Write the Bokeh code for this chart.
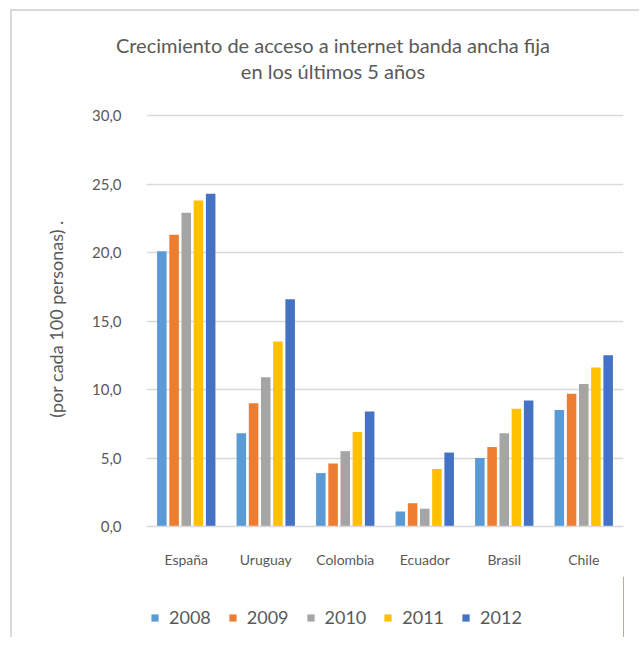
from bokeh.plotting import figure
from bokeh.layouts import column
from bokeh.models import (FactorRange, Range1d, FixedTicker, Legend, LegendItem, Div,
                          ColumnDataSource)
from bokeh.transform import dodge
from bokeh.embed import file_html
from bokeh.resources import INLINE

countries = ["España", "Uruguay", "Colombia", "Ecuador", "Brasil", "Chile"]
years = ["2008", "2009", "2010", "2011", "2012"]
v2008 = [20.1, 6.8, 3.9, 1.1, 5.0, 8.5]
v2009 = [21.3, 9.0, 4.6, 1.7, 5.8, 9.7]
v2010 = [22.9, 10.9, 5.5, 1.3, 6.8, 10.4]
v2011 = [23.8, 13.5, 6.9, 4.2, 8.6, 11.6]
v2012 = [24.3, 16.6, 8.4, 5.4, 9.2, 12.5]
colors = ["#5B9BD5", "#ED7D31", "#A5A5A5", "#FFC000", "#4472C4"]
y_ticks = [0, 5, 10, 15, 20, 25, 30]
y_tick_labels = ["0,0", "5,0", "10,0", "15,0", "20,0", "25,0", "30,0"]
title_lines = ["Crecimiento de acceso a internet banda ancha fija", "en los últimos 5 años"]
y_label = "(por cada 100 personas) ."

FONT = "Lato"
TXT = "#595959"
GRID = "#d9d9d9"
W = 623
ML, MR = 134, 12
BORDER_L = "2px solid #d9d9d9"


def blank(fig):
    fig.outline_line_color = None
    fig.xgrid.grid_line_color = None
    fig.ygrid.grid_line_color = None
    fig.background_fill_color = "white"
    fig.border_fill_color = "white"


# ---- title block ----
T = Div(text="<br>".join(title_lines), width=629, height=90,
        styles={"border-left": BORDER_L, "border-top": BORDER_L, "overflow": "hidden",
                "text-align": "center", "font-family": FONT, "font-size": "20px",
                "color": TXT, "line-height": "26px", "padding-top": "21px",
                "padding-left": "15px", "box-sizing": "border-box"})
T.margin = (9, 0, 0, 10)

# ---- main chart ----
source = ColumnDataSource(dict(country=countries, y2008=v2008, y2009=v2009,
                               y2010=v2010, y2011=v2011, y2012=v2012))

p = figure(width=W, height=477, x_range=FactorRange(*countries, range_padding=0),
           y_range=Range1d(0, 30.3), output_backend="svg", toolbar_location=None,
           min_border_left=ML, min_border_right=MR, min_border_top=12, min_border_bottom=50)
p.margin = (0, 0, 0, 10)
p.styles = {"border-left": BORDER_L}
p.outline_line_color = None
p.background_fill_color = "white"

offsets = [-0.307, -0.153, 0.0, 0.153, 0.307]
for yr, off, col in zip(years, offsets, colors):
    p.vbar(x=dodge("country", off, range=p.x_range), top="y" + yr, width=0.12,
           source=source, fill_color=col, line_color=None)

p.xgrid.grid_line_color = None
p.ygrid.grid_line_color = GRID
p.ygrid.grid_line_width = 1.5

p.yaxis.ticker = FixedTicker(ticks=y_ticks)
p.yaxis.major_label_overrides = {t: l for t, l in zip(y_ticks, y_tick_labels)}
p.yaxis.axis_line_color = None
p.yaxis.major_tick_line_color = None
p.yaxis.minor_tick_line_color = None
p.yaxis.major_label_text_font = FONT
p.yaxis.major_label_text_font_size = "15px"
p.yaxis.major_label_text_color = TXT
p.yaxis.major_label_standoff = 19
p.yaxis.axis_label = y_label
p.yaxis.axis_label_text_font = FONT
p.yaxis.axis_label_text_font_size = "18px"
p.yaxis.axis_label_text_font_style = "normal"
p.yaxis.axis_label_text_color = TXT
p.yaxis.axis_label_standoff = 22

p.xaxis.axis_line_color = GRID
p.xaxis.axis_line_width = 1.5
p.xaxis.major_tick_line_color = None
p.xaxis.minor_tick_line_color = None
p.xaxis.major_label_text_font = FONT
p.xaxis.major_label_text_font_size = "14px"
p.xaxis.major_label_text_color = TXT
p.xaxis.major_label_standoff = 18

# ---- legend strip ----
L = figure(width=W, height=61, x_range=Range1d(0, 1), y_range=Range1d(0, 1),
           output_backend="svg", toolbar_location=None, x_axis_location=None,
           y_axis_location=None, min_border_left=ML, min_border_right=MR,
           min_border_top=0, min_border_bottom=0)
L.margin = (0, 0, 0, 10)
L.styles = {"border-left": BORDER_L}
blank(L)
items = []
for yr, col in zip(years, colors):
    r = L.vbar(x=[5], top=[5], width=0.1, fill_color=col, line_color=None)
    items.append(LegendItem(label=yr, renderers=[r]))
legend = Legend(items=items, orientation="horizontal", location=(4, 9),
                glyph_width=9, glyph_height=9, label_standoff=10, spacing=17,
                padding=0, margin=0, border_line_color=None, background_fill_alpha=0,
                label_text_font=FONT, label_text_font_size="18px", label_text_color=TXT)
L.add_layout(legend, "center")

layout = column(T, p, L, spacing=0)
open("out.html", "w").write(file_html(layout, INLINE))
